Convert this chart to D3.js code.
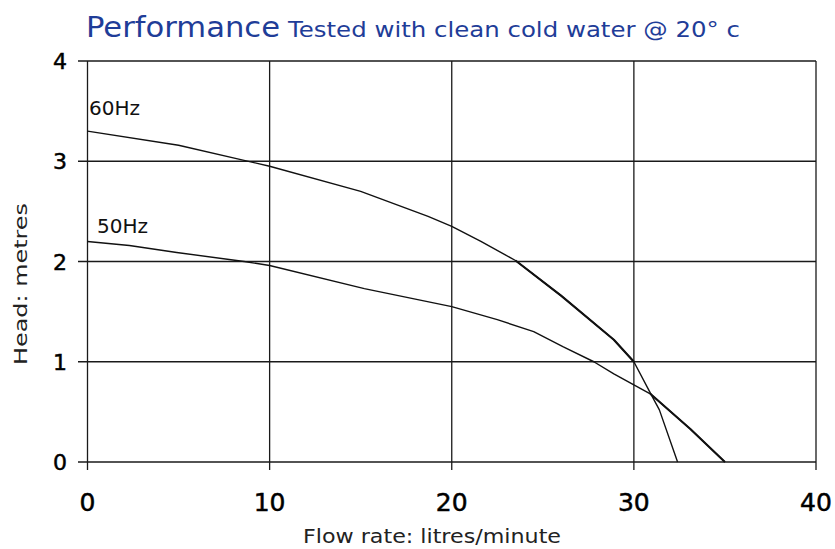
<!DOCTYPE html>
<html>
<head>
<meta charset="utf-8">
<script src="https://cdn.jsdelivr.net/npm/d3@7"></script>
<style>
  html, body { margin: 0; padding: 0; background: #fff; }
  svg { display: block; }
</style>
</head>
<body>
<script>
// ---- data ----
const flow60 = [0, 5, 10, 15, 18.7, 20, 21.6, 23.5, 26, 28.9, 30, 30.9, 31.4, 32.4];
const head60 = [3.3, 3.16, 2.95, 2.70, 2.45, 2.35, 2.2, 2.01, 1.66, 1.22, 1.0, 0.69, 0.52, 0];
const flow50 = [0, 2.3, 4.9, 8.6, 10, 15.2, 20, 22.5, 24.5, 26.1, 27.8, 28.9, 29.9, 30.9, 33.1, 35];
const head50 = [2.2, 2.16, 2.09, 2.0, 1.96, 1.73, 1.55, 1.42, 1.3, 1.15, 1.0, 0.88, 0.78, 0.68, 0.33, 0];
const seriesNames = ["60Hz", "50Hz"];
const xTicks = [0, 10, 20, 30, 40];
const yTicks = [0, 1, 2, 3, 4];
const titleMain = "Performance";
const titleSub = "Tested with clean cold water @ 20° c";
const xLabel = "Flow rate: litres/minute";
const yLabel = "Head: metres";

const W = 835, H = 549;
const svg = d3.select("body").append("svg").attr("width", W).attr("height", H);

const x = d3.scaleLinear().domain([0, 40]).range([87.5, 816]);
const y = d3.scaleLinear().domain([0, 4]).range([462, 61]);

const font = "'DejaVu Sans', sans-serif";

// grid lines (horizontal, with tick stubs on the left)
const g = svg.append("g");
g.selectAll("line.h").data(yTicks).enter().append("line")
  .attr("x1", 78).attr("x2", x(40))
  .attr("y1", d => y(d)).attr("y2", d => y(d))
  .attr("stroke", "#1a1a1a").attr("stroke-width", 1.3);
g.selectAll("line.v").data(xTicks).enter().append("line")
  .attr("x1", d => x(d)).attr("x2", d => x(d))
  .attr("y1", y(4)).attr("y2", 470)
  .attr("stroke", "#1a1a1a").attr("stroke-width", 1.3);

// tick labels
g.selectAll("text.yt").data(yTicks).enter().append("text")
  .attr("x", 67).attr("y", d => y(d) + 8)
  .attr("text-anchor", "end")
  .attr("font-family", font).attr("font-size", 22)
  .attr("fill", "#000").attr("stroke", "#000").attr("stroke-width", 0.5)
  .text(d => d);
g.selectAll("text.xt").data(xTicks).enter().append("text")
  .attr("x", d => x(d)).attr("y", 511)
  .attr("text-anchor", "middle")
  .attr("font-family", font).attr("font-size", 25)
  .attr("fill", "#000").attr("stroke", "#000").attr("stroke-width", 0.5)
  .text(d => d);

// curves
const line = d3.line().x(d => x(d[0])).y(d => y(d[1]));
const s60 = flow60.map((f, i) => [f, head60[i]]);
const s50 = flow50.map((f, i) => [f, head50[i]]);
[s60, s50].forEach(s => {
  svg.append("path").datum(s).attr("d", line)
    .attr("fill", "none").attr("stroke", "#111").attr("stroke-width", 1.4)
    .attr("stroke-linejoin", "round");
});
// heavier-drawn stretches of each curve, as in the original
const heavy = [[s60, 23.5, 30], [s50, 30.9, 35]];
heavy.forEach(([s, a, b]) => {
  svg.append("path").datum(s.filter(d => d[0] >= a && d[0] <= b)).attr("d", line)
    .attr("fill", "none").attr("stroke", "#111").attr("stroke-width", 2.1)
    .attr("stroke-linejoin", "round");
});

// series labels
svg.append("text").attr("x", 89).attr("y", 115)
  .attr("font-family", font).attr("font-size", 20).attr("fill", "#111")
  .text(seriesNames[0]);
svg.append("text").attr("x", 97).attr("y", 233)
  .attr("font-family", font).attr("font-size", 20).attr("fill", "#111")
  .text(seriesNames[1]);

// title
svg.append("text").attr("x", 86).attr("y", 37)
  .attr("font-family", font).attr("fill", "#1f3d98")
  .attr("font-size", 28)
  .attr("textLength", 194).attr("lengthAdjust", "spacingAndGlyphs")
  .text(titleMain);
svg.append("text").attr("x", 288).attr("y", 37)
  .attr("font-family", font).attr("fill", "#1f3d98")
  .attr("font-size", 21)
  .attr("textLength", 452).attr("lengthAdjust", "spacingAndGlyphs")
  .text(titleSub);

// axis titles
svg.append("text").attr("x", 303).attr("y", 543)
  .attr("font-family", font).attr("font-size", 20).attr("fill", "#222")
  .attr("textLength", 258).attr("lengthAdjust", "spacingAndGlyphs")
  .text(xLabel);
svg.append("text")
  .attr("transform", "translate(27,365) rotate(-90)")
  .attr("font-family", font).attr("font-size", 18).attr("fill", "#222")
  .attr("textLength", 162).attr("lengthAdjust", "spacingAndGlyphs")
  .text(yLabel);
</script>
</body>
</html>
